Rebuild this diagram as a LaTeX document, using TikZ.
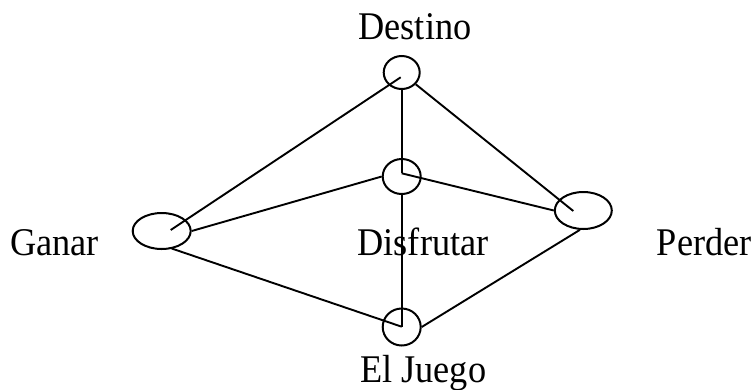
\documentclass[tikz,border=0pt]{standalone}
\usepackage{fontspec}
\setmainfont{Liberation Serif}
\usetikzlibrary{shapes.geometric,calc}
\newcommand{\tallt}[1]{\scalebox{1}[1.08]{#1}}
\begin{document}
\begin{tikzpicture}[x=1pt,y=-1pt,
  vert/.style={draw,ellipse,line width=2pt,inner sep=0pt},
  conn/.style={line width=1.9pt},
  lbl/.style={anchor=base west,inner sep=0pt,font=\fontsize{36.3}{43}\selectfont}]
\useasboundingbox (0,0) rectangle (755,389);
% vertices
\node[vert,minimum width=36pt,minimum height=33pt] (D) at (401.7,72.5) {};
\node[vert,minimum width=38pt,minimum height=35pt] (F) at (401.7,176.5) {};
\node[vert,minimum width=38pt,minimum height=37pt] (J) at (401.7,327) {};
\node[vert,minimum width=58pt,minimum height=36pt] (G) at (161.7,231) {};
\node[vert,minimum width=57pt,minimum height=37pt] (P) at (583.3,210.5) {};
% labels
\node[lbl] (tD) at (358.3,39.3) {\tallt{Destino}};
\node[lbl] (tG) at (10,255) {\tallt{Ganar}};
\node[lbl] (tF) at (357.3,255) {\tallt{Disfrutar}};
\node[lbl] (tP) at (656.7,255) {\tallt{Perder}};
\node[lbl] (tJ) at (360,382.5) {\tallt{El Juego}};
% connector end points
\coordinate (Gin) at ($(G)+(9,-1)$);
\coordinate (Din) at ($(D)+(-1,4.8)$);
\coordinate (Fc) at ($(F)+(0,-3.2)$);
\coordinate (Jc) at ($(J)+(0,-0.3)$);
\coordinate (Pin) at ($(P)+(-10,0.5)$);
% connectors
\draw[conn] (Gin) -- (Din);
\draw[conn] (G.east) -- (F.west);
\draw[conn] (G.south) ++(10,-1.5) coordinate (Gs) -- (Jc);
\draw[conn] (D.south) -- (Fc);
\draw[conn] (D.-40) -- (Pin);
\draw[conn] (Fc) -- (P.west);
\draw[conn] (F.south) -- (Jc);
\draw[conn] (J.east) -- (P.-100);
\end{tikzpicture}
\end{document}
